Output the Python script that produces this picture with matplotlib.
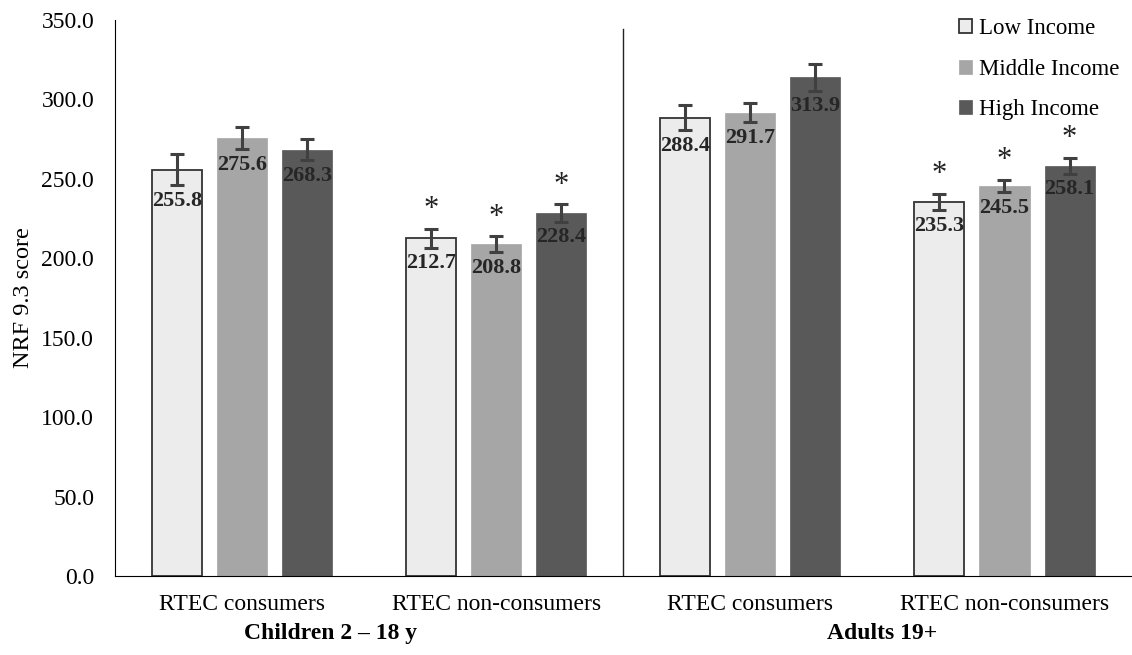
import numpy as np
import matplotlib.pyplot as plt
from matplotlib.patches import Patch

plt.rcParams['font.family'] = ['Liberation Serif', 'DejaVu Serif']

# data
categories = ['RTEC consumers', 'RTEC non-consumers', 'RTEC consumers', 'RTEC non-consumers']
groups = ['Children 2 \u2013 18 y', 'Adults 19+']
series = ['Low Income', 'Middle Income', 'High Income']
low = [255.8, 212.7, 288.4, 235.3]
middle = [275.6, 208.8, 291.7, 245.5]
high = [268.3, 228.4, 313.9, 258.1]
low_err = [10.0, 6.0, 8.0, 5.0]
middle_err = [7.0, 5.0, 6.0, 4.0]
high_err = [6.5, 5.5, 8.5, 5.0]
low_sig = [False, True, False, True]
middle_sig = [False, True, False, True]
high_sig = [False, True, False, True]

colors = ['#ececec', '#a6a6a6', '#595959']
edges = ['#333333', '#a6a6a6', '#595959']

fig = plt.figure(figsize=(11.32, 6.55), dpi=100)
ax = fig.add_axes([0.1016, 0.1206, 0.898, 0.849])

x = np.arange(len(categories))
w = 0.197
step = 0.256
vals = [low, middle, high]
errs = [low_err, middle_err, high_err]
sigs = [low_sig, middle_sig, high_sig]

for i in range(3):
    pos = x + (i - 1) * step
    ax.bar(pos, vals[i], width=w, color=colors[i], edgecolor=edges[i],
           linewidth=1.3 if i == 0 else 0.5, zorder=2)
    ax.errorbar(pos, vals[i], yerr=errs[i], fmt='none', ecolor='#404040',
                elinewidth=2.2, capsize=5, capthick=2.2, zorder=3)
    for p, v, e, s in zip(pos, vals[i], errs[i], sigs[i]):
        ax.text(p, v - e - 3.5, f'{v:.1f}', ha='center', va='top', fontsize=16,
                fontweight='bold', color='#262626', zorder=4)
        if s:
            ax.text(p, v + e + 3, '*', ha='center', va='bottom', fontsize=22,
                    color='#222222')

ax.set_xlim(-0.5, 3.5)
ax.set_ylim(0, 350)
ax.set_yticks(np.arange(0, 351, 50))
ax.set_yticklabels([f'{t:.1f}' for t in np.arange(0, 351, 50)], fontsize=17)
ax.set_xticks(x)
ax.set_xticklabels(categories, fontsize=17)
ax.tick_params(axis='y', length=0, pad=15)
ax.tick_params(axis='x', length=0, pad=13)
ax.set_ylabel('NRF 9.3 score', fontsize=17.5, labelpad=5)

for side in ['top', 'right']:
    ax.spines[side].set_visible(False)
ax.spines['left'].set_color('black')
ax.spines['bottom'].set_color('black')

# separator between age groups
ax.plot([1.5, 1.5], [0, 344], color='#222222', linewidth=1)

group_x = [0.35, 2.52]
for gx, g in zip(group_x, groups):
    ax.text(gx, -0.103, g, transform=ax.get_xaxis_transform(),
            ha='center', va='center', fontsize=17, fontweight='bold')

handles = [Patch(facecolor=colors[i], edgecolor=edges[i], linewidth=1.3 if i == 0 else 0.5)
           for i in range(3)]
ax.legend(handles, series, loc='upper right', bbox_to_anchor=(1.008, 1.04), frameon=False,
          fontsize=16.5, handlelength=0.55, handleheight=0.55, handletextpad=0.3,
          labelspacing=0.85)

fig.savefig('out.png', dpi=100)
